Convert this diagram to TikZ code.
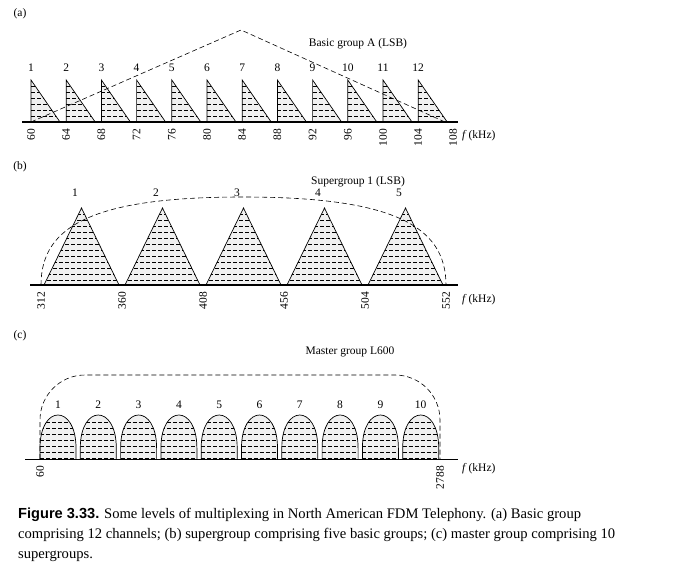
\documentclass[tikz,border=0pt]{standalone}
\usepackage{fontspec}
\setmainfont{Liberation Serif}
\newfontfamily\capsans{Liberation Sans}
\begin{document}
\begin{tikzpicture}[x=1pt,y=-1pt,
  lbl/.style={font=\fontsize{11.5}{12}\selectfont,inner sep=0pt},
  tick/.style={font=\fontsize{11.5}{12}\selectfont,inner sep=0pt,rotate=90,anchor=east},
  axisl/.style={line width=1.2pt},
  env/.style={line width=0.6pt,dash pattern=on 5pt off 3pt}]
\useasboundingbox (0,0) rectangle (697,568);
% panel labels
\node[lbl] (pa) at (20,14) {(a)};
\node[lbl] (pb) at (20,167) {(b)};
\node[lbl] (pc) at (20,336) {(c)};
% ---------- (a)
\foreach \i/\f in {0/60,1/64,2/68,3/72,4/76,5/80,6/84,7/88,8/92,9/96,10/100,11/104}{
  \pgfmathsetmacro\xa{31+35.2*\i}
  \begin{scope}
  \clip (\xa,80) -- (\xa,122) -- (\xa+29,122) -- cycle;
  \fill[gray!12] (\xa,78) rectangle (\xa+30,122);
  \foreach \yy in {86,92,...,120}{\draw[dash pattern=on 4pt off 2pt,line width=0.5pt] (\xa,\yy) -- (\xa+30,\yy);}
  \end{scope}
  \draw[line width=0.7pt] (\xa,80) -- (\xa,122) -- (\xa+29,122) -- cycle;
  \pgfmathtruncatemacro\n{\i+1}
  \node[lbl] (na\n) at (\xa,68) {\n};
  \node[tick] (ta\n) at (\xa,129) {\f};
}
\node[tick] (ta13) at (453,129) {108};
\coordinate (a0) at (22,122); \coordinate (a1) at (458,122);
\draw[axisl] (a0) -- (a1);
\coordinate (da) at (31,122); \coordinate (db) at (241,30); \coordinate (dc) at (445,122);
\draw[env] (da) -- (db) -- (dc);
\node[lbl] (ta) at (358,44) {Basic group A (LSB)};
\node[lbl,anchor=west] (fa) at (462,136) {\textit{f}\,(kHz)};
% ---------- (b)
\foreach \i/\f in {0/312,1/360,2/408,3/456,4/504}{
  \pgfmathsetmacro\xa{41+81*\i}
  \begin{scope}
  \clip (\xa+3,285) -- (\xa+40.5,208) -- (\xa+78,285) -- cycle;
  \fill[gray!12] (\xa,205) rectangle (\xa+81,285);
  \foreach \yy in {214,220,...,284}{\draw[dash pattern=on 4pt off 2pt,line width=0.5pt] (\xa,\yy) -- (\xa+81,\yy);}
  \end{scope}
  \draw[line width=0.7pt] (\xa+3,285) -- (\xa+40.5,208) -- (\xa+78,285) -- cycle;
  \pgfmathtruncatemacro\n{\i+1}
  \node[lbl] (nb\n) at (\xa+34,193) {\n};
  \node[tick] (tb\n) at (\xa,292) {\f};
}
\node[tick] (tb6) at (446,292) {552};
\coordinate (b0) at (30,285); \coordinate (b1) at (458,285);
\draw[axisl] (b0) -- (b1);
\coordinate (eb0) at (41,285); \coordinate (eb1) at (446,285);
\draw[env] (eb0) .. controls (41,225) and (95,197) .. (243,197) .. controls (391,197) and (446,225) .. (eb1);
\node[lbl] (tb) at (358,182) {Supergroup 1 (LSB)};
\node[lbl,anchor=west] (fb) at (462,300) {\textit{f}\,(kHz)};
% ---------- (c)
\foreach \i in {0,...,9}{
  \pgfmathsetmacro\xa{40+40.3*\i}
  \begin{scope}
  \clip (\xa,459) -- (\xa,448) .. controls (\xa,404) and (\xa+36,404) .. (\xa+36,448) -- (\xa+36,459) -- cycle;
  \fill[gray!12] (\xa,410) rectangle (\xa+36,459);
  \foreach \yy in {422,428,...,458}{\draw[dash pattern=on 4pt off 2pt,line width=0.5pt] (\xa,\yy) -- (\xa+36,\yy);}
  \end{scope}
  \draw[line width=0.7pt] (\xa,459) -- (\xa,448) .. controls (\xa,404) and (\xa+36,404) .. (\xa+36,448) -- (\xa+36,459);
  \pgfmathtruncatemacro\n{\i+1}
  \node[lbl] (nc\n) at (\xa+18,405) {\n};
}
\coordinate (c0) at (25,459); \coordinate (c1) at (458,459);
\draw[line width=0.8pt] (c0) -- (c1);
\coordinate (ec0) at (40,459); \coordinate (ec1) at (440,459);
\draw[env] (ec0) -- (40,420) arc[start angle=180,end angle=270,radius=45] -- (395,375) arc[start angle=270,end angle=360,radius=45] -- (ec1);
\node[tick] (tc1) at (40,466) {60};
\node[tick] (tc2) at (440,466) {2788};
\node[lbl] (tc) at (350,352) {Master group L600};
\node[lbl,anchor=west] (fc) at (462,469) {\textit{f}\,(kHz)};
% caption
\node[anchor=north west,align=left,inner sep=0pt,font=\fontsize{14.6}{20}\selectfont] (cap) at (18,508)
 {{\capsans\bfseries Figure 3.33.} Some levels of multiplexing in North American FDM Telephony. (a) Basic group\\ comprising 12 channels; (b) supergroup comprising five basic groups; (c) master group comprising 10\\ supergroups.};
\end{tikzpicture}
\end{document}
